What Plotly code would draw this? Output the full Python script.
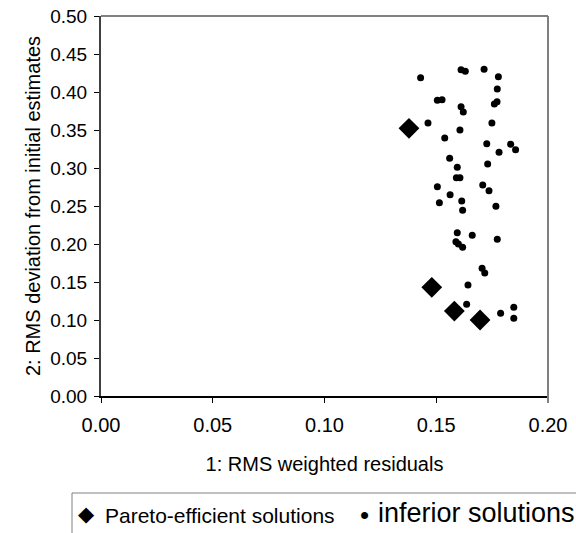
import plotly.graph_objects as go

pareto_x = [0.1378, 0.1480, 0.1581, 0.1696]
pareto_y = [0.3522, 0.1430, 0.1118, 0.1000]

inferior_x = [0.1430, 0.1611, 0.1630, 0.1714, 0.1778, 0.1773, 0.1505, 0.1526, 0.1611, 0.1621,
              0.1760, 0.1772, 0.1463, 0.1749, 0.1606, 0.1538, 0.1726, 0.1833, 0.1855, 0.1781,
              0.1560, 0.1730, 0.1594, 0.1590, 0.1606, 0.1505, 0.1708, 0.1736, 0.1562, 0.1514,
              0.1614, 0.1767, 0.1618, 0.1594, 0.1661, 0.1773, 0.1588, 0.1599, 0.1618, 0.1705,
              0.1717, 0.1642, 0.1636, 0.1788, 0.1847, 0.1847]
inferior_y = [0.4188, 0.4293, 0.4272, 0.4299, 0.4201, 0.4039, 0.3891, 0.3899, 0.3807, 0.3737,
              0.3842, 0.3872, 0.3592, 0.3592, 0.3500, 0.3395, 0.3320, 0.3312, 0.3241, 0.3207,
              0.3128, 0.3053, 0.3009, 0.2872, 0.2872, 0.2754, 0.2776, 0.2701, 0.2649, 0.2543,
              0.2566, 0.2496, 0.2443, 0.2149, 0.2114, 0.2062, 0.2030, 0.2000, 0.1957, 0.1680,
              0.1618, 0.1461, 0.1207, 0.1088, 0.1167, 0.1022]

x_ticks = [0.00, 0.05, 0.10, 0.15, 0.20]
y_ticks = [0.00, 0.05, 0.10, 0.15, 0.20, 0.25, 0.30, 0.35, 0.40, 0.45, 0.50]

series_names = ["Pareto-efficient solutions", "inferior solutions"]

FONT = "Liberation Sans, Arial, sans-serif"

# plot area in pixels: x 101..548, y 16..396
PL, PR, PT, PB = 101, 548, 16, 396
W, H = 576, 533


def px(x):
    return (x - PL) / (PR - PL)


def py(y):
    return (PB - y) / (PB - PT)


fig = go.Figure()
fig.add_trace(go.Scatter(
    x=pareto_x, y=pareto_y, mode="markers", name=series_names[0], showlegend=False,
    marker=dict(symbol="diamond", size=16, color="black"),
))
fig.add_trace(go.Scatter(
    x=inferior_x, y=inferior_y, mode="markers", name=series_names[1], showlegend=False,
    marker=dict(symbol="circle", size=7, color="black"),
))

annotations = [
    dict(text="◆", x=px(86), y=py(514), xref="paper", yref="paper", xanchor="center",
         yanchor="middle", showarrow=False, font=dict(size=21, family="DejaVu Sans", color="black")),
    dict(text=series_names[0], x=px(103), y=py(515), xref="paper", yref="paper", xanchor="left",
         yanchor="middle", showarrow=False, font=dict(size=21, family=FONT, color="black")),
    dict(text="•", x=px(364), y=py(515), xref="paper", yref="paper", xanchor="center",
         yanchor="middle", showarrow=False, font=dict(size=26, family=FONT, color="black")),
    dict(text=series_names[1], x=px(376), y=py(513), xref="paper", yref="paper", xanchor="left",
         yanchor="middle", showarrow=False, font=dict(size=27, family=FONT, color="black")),
]

fig.update_layout(
    width=W, height=H,
    margin=dict(l=PL, r=W - PR, t=PT, b=H - PB),
    plot_bgcolor="white", paper_bgcolor="white",
    font=dict(family=FONT, size=20, color="black"),
    showlegend=False,
    annotations=annotations,
    xaxis=dict(
        range=[0, 0.2], tickvals=x_ticks, ticktext=[f"{v:.2f}" for v in x_ticks],
        showgrid=False, zeroline=False, showline=True, linecolor="black", linewidth=2,
        ticks="outside", ticklen=5, tickcolor="black", tickwidth=1,
        tickfont=dict(size=20), ticklabelstandoff=5, automargin=False,
        title=dict(text="1: RMS weighted residuals", standoff=22, font=dict(size=20)),
    ),
    yaxis=dict(
        range=[0, 0.5], tickvals=y_ticks, ticktext=[f"{v:.2f}" for v in y_ticks],
        showgrid=False, zeroline=False, showline=True, linecolor="#404040", linewidth=2,
        ticks="outside", ticklen=5, tickcolor="black", tickwidth=1,
        tickfont=dict(size=19), ticklabelstandoff=3, automargin=False,
        title=dict(text="2: RMS deviation from initial estimates", standoff=4, font=dict(size=20)),
    ),
    shapes=[
        dict(type="line", xref="paper", yref="paper", x0=0, x1=1, y0=1, y1=1,
             line=dict(color="#808080", width=2)),
        dict(type="line", xref="paper", yref="paper", x0=1, x1=1, y0=py(403), y1=1,
             line=dict(color="#808080", width=2)),
        dict(type="rect", xref="paper", yref="paper", x0=px(72), x1=px(620),
             y0=py(493), y1=py(580), line=dict(color="#808080", width=1),
             fillcolor="rgba(0,0,0,0)"),
    ],
)

fig.write_html("out.html")
